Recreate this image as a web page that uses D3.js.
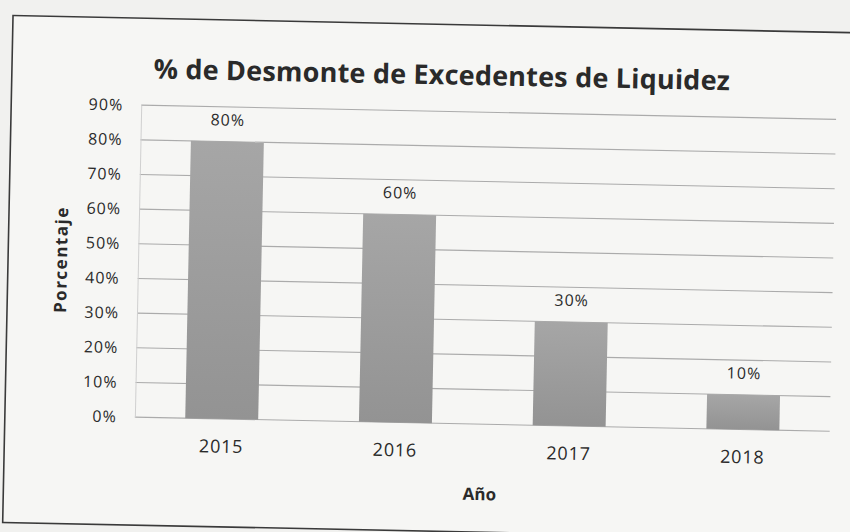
<!DOCTYPE html>
<html>
<head>
<meta charset="utf-8">
<script src="https://cdn.jsdelivr.net/npm/d3@7"></script>
<style>
  html, body { margin: 0; padding: 0; background: #f1f1ef; }
  svg { display: block; }
  text { font-family: "Open Sans", "Lato", sans-serif; fill: #2a2a2a; }
</style>
</head>
<body>
<svg id="chart" width="850" height="532"></svg>
<script>
const categories = ["2015", "2016", "2017", "2018"];
const values = [0.80, 0.60, 0.30, 0.10];
const valueLabels = ["80%", "60%", "30%", "10%"];
const yTicks = [0, 0.1, 0.2, 0.3, 0.4, 0.5, 0.6, 0.7, 0.8, 0.9];
const title = "% de Desmonte de Excedentes de Liquidez";
const yTitle = "Porcentaje";
const xTitle = "Año";

const W = 850, H = 532;
const svg = d3.select("#chart");

// paper background
svg.append("rect").attr("width", W).attr("height", H).attr("fill", "#f1f1ef");

const defs = svg.append("defs");
const grad = defs.append("linearGradient").attr("id", "barGrad")
  .attr("x1", 0).attr("y1", 0).attr("x2", 0).attr("y2", 1);
grad.append("stop").attr("offset", "0%").attr("stop-color", "#a6a6a6");
grad.append("stop").attr("offset", "100%").attr("stop-color", "#939393");

// whole sheet slightly rotated like the scan
const g = svg.append("g").attr("transform", "rotate(1.17, 425, 266)");

// chart border
g.append("rect")
  .attr("x", 8).attr("y", 24).attr("width", 880).attr("height", 507)
  .attr("fill", "#f6f6f4").attr("stroke", "#3a3a3a").attr("stroke-width", 1.6);

const x = d3.scaleBand().domain(categories).range([138, 833])
  .paddingInner(0.58).paddingOuter(0.29);
const y = d3.scaleLinear().domain([0, 0.9]).range([423, 111]);

// gridlines
g.append("g").selectAll("line").data(yTicks).join("line")
  .attr("x1", 138).attr("x2", 833)
  .attr("y1", d => y(d)).attr("y2", d => y(d))
  .attr("stroke", "#ababab").attr("stroke-width", 1.1);

// y axis via d3 axis (labels only)
const yAxis = g.append("g").attr("transform", "translate(138,0)")
  .call(d3.axisLeft(y).tickValues(yTicks).tickFormat(d3.format(".0%")).tickSize(0).tickPadding(18));
yAxis.select(".domain").attr("stroke", "#d0d0d0");
yAxis.selectAll("text").style("font-size", "16px").style("letter-spacing", "1px").attr("fill", "#333");

// bars
g.append("g").selectAll("rect").data(values).join("rect")
  .attr("x", (d, i) => x(categories[i]))
  .attr("width", x.bandwidth())
  .attr("y", d => y(d))
  .attr("height", d => y(0) - y(d))
  .attr("fill", "url(#barGrad)");

// value labels
g.append("g").selectAll("text").data(values).join("text")
  .attr("x", (d, i) => x(categories[i]) + x.bandwidth() / 2)
  .attr("y", d => y(d) - 16)
  .attr("text-anchor", "middle")
  .style("font-size", "16px").style("letter-spacing", "1px")
  .text((d, i) => valueLabels[i]);

// x axis labels via d3 axis
const xAxis = g.append("g").attr("transform", `translate(0,${y(0)})`)
  .call(d3.axisBottom(x).tickSize(0).tickPadding(21));
xAxis.select(".domain").remove();
xAxis.selectAll("text").style("font-size", "18px").style("letter-spacing", "0.8px").attr("fill", "#2a2a2a");

// title
g.append("text").attr("x", 438).attr("y", 84)
  .attr("text-anchor", "middle")
  .style("font-size", "27px").style("font-weight", "bold").style("letter-spacing", "0.2px")
  .attr("fill", "#1a1a1a")
  .text(title);

// axis titles
g.append("text")
  .attr("transform", "translate(67,267) rotate(-90)")
  .attr("text-anchor", "middle")
  .style("font-size", "17px").style("font-weight", "bold").style("letter-spacing", "1.5px")
  .text(yTitle);

g.append("text").attr("x", 484).attr("y", 499)
  .attr("text-anchor", "middle")
  .style("font-size", "17px").style("font-weight", "bold")
  .text(xTitle);
</script>
</body>
</html>
